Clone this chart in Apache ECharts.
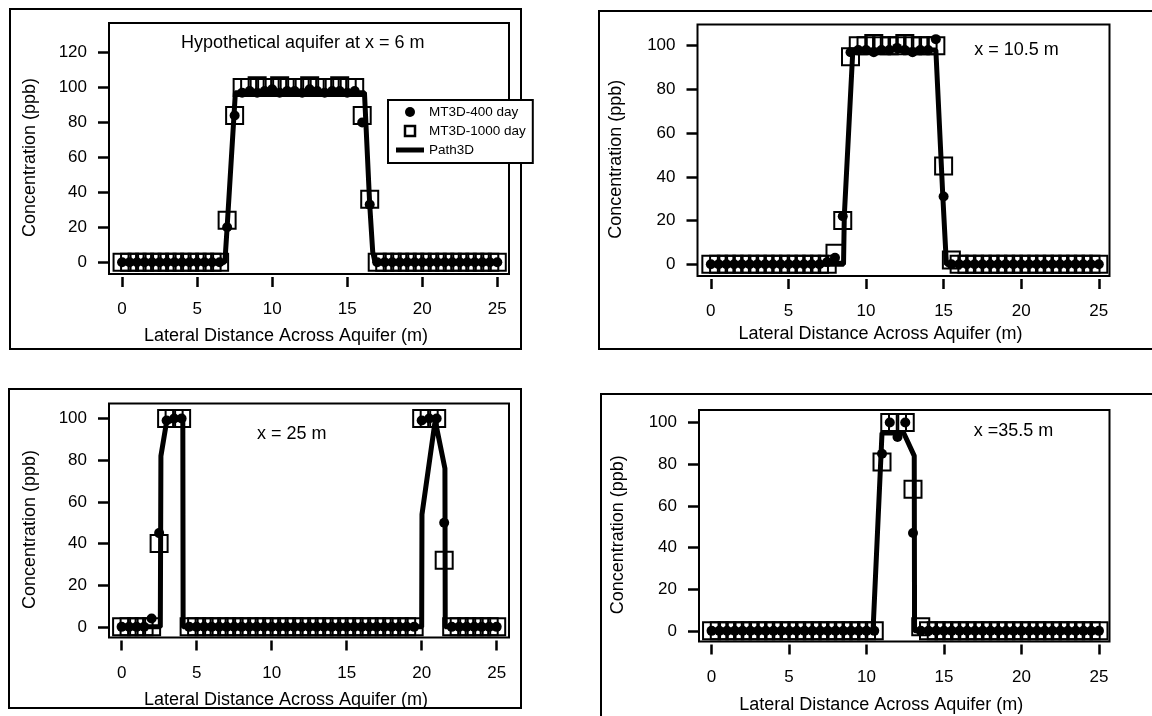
<!DOCTYPE html>
<html>
<head>
<meta charset="utf-8">
<title>Concentration profiles</title>
<script src="https://cdn.jsdelivr.net/npm/echarts@6/dist/echarts.min.js"></script>
<style>
  html, body { margin: 0; padding: 0; background: #fff; }
  #main { width: 1152px; height: 716px; }
</style>
</head>
<body>
<div id="main"></div>
<script>
// lateral positions of the MT3D cells (m)
var xs = [0, 0.5, 1, 1.5, 2, 2.5, 3, 3.5, 4, 4.5, 5, 5.5, 6, 6.5, 7, 7.5, 8, 8.5, 9, 9.5,
          10, 10.5, 11, 11.5, 12, 12.5, 13, 13.5, 14, 14.5, 15, 15.5, 16, 16.5, 17, 17.5, 18, 18.5, 19, 19.5,
          20, 20.5, 21, 21.5, 22, 22.5, 23, 23.5, 24, 24.5, 25];

var xTicks = [0, 5, 10, 15, 20, 25];
var yTicks6 = [0, 20, 40, 60, 80, 100, 120];
var yTicks = [0, 20, 40, 60, 80, 100];

var panelTitles = ['Hypothetical aquifer at x = 6 m', 'x = 10.5 m', 'x = 25 m', 'x =35.5 m'];

// x = 6 m
var mt400_6 = [0, 0, 0, 0, 0, 0, 0, 0, 0, 0, 0, 0, 0, 0, 20, 84,
               97, 98, 97, 98, 99, 97, 98, 98, 97, 99, 98, 97, 98, 98, 97, 98,
               80, 33, 0, 0, 0, 0, 0, 0, 0, 0, 0, 0, 0, 0, 0, 0, 0, 0, 0];
var mt1000_6 = [0, 0, 0, 0, 0, 0, 0, 0, 0, 0, 0, 0, 0, 0, 24, 84,
                100, 100, 101, 100, 100, 101, 100, 100, 100, 101, 100, 100, 100, 101, 100, 100,
                84, 36, 0, 0, 0, 0, 0, 0, 0, 0, 0, 0, 0, 0, 0, 0, 0, 0, 0];
var path_6 = [[0, 0], [6.85, 0], [7.0, 20], [7.55, 97], [16.15, 97], [16.5, 33], [16.7, 6], [16.85, 0], [25, 0]];

// x = 10.5 m
var mt400_10 = [0, 0, 0, 0, 0, 0, 0, 0, 0, 0, 0, 0, 0, 0, 0, 1, 3, 22, 97,
                98, 98, 97, 98, 98, 99, 98, 97, 98, 98, 103, 31, 0,
                0, 0, 0, 0, 0, 0, 0, 0, 0, 0, 0, 0, 0, 0, 0, 0, 0, 0, 0];
var mt1000_10 = [0, 0, 0, 0, 0, 0, 0, 0, 0, 0, 0, 0, 0, 0, 0, 0, 5, 20, 95,
                 100, 100, 101, 100, 100, 100, 101, 100, 100, 100, 100, 45, 2,
                 0, 0, 0, 0, 0, 0, 0, 0, 0, 0, 0, 0, 0, 0, 0, 0, 0, 0, 0];
var path_10 = [[0, 0], [8.55, 0], [8.6, 22], [9.15, 98], [14.5, 98], [14.95, 31], [15.18, 0], [25, 0]];

// x = 25 m
var mt400_25 = [0, 0, 0, 0, 4, 45, 99, 100, 100,
                0, 0, 0, 0, 0, 0, 0, 0, 0, 0, 0, 0, 0, 0, 0, 0, 0, 0, 0, 0, 0, 0, 0, 0, 0, 0, 0, 0, 0, 0, 0,
                99, 100, 100, 50, 0, 0, 0, 0, 0, 0, 0];
var mt1000_25 = [0, 0, 0, 0, 0, 40, 100, 100, 100,
                 0, 0, 0, 0, 0, 0, 0, 0, 0, 0, 0, 0, 0, 0, 0, 0, 0, 0, 0, 0, 0, 0, 0, 0, 0, 0, 0, 0, 0, 0, 0,
                 100, 100, 100, 32, 0, 0, 0, 0, 0, 0, 0];
var path_25 = [[0, 0], [2.58, 0], [2.62, 82], [3.0, 98.5], [4.08, 100], [4.1, 0], [20.0, 0], [20.02, 54],
               [20.9, 99], [21.55, 76], [21.57, 0], [25, 0]];

// x = 35.5 m
var mt400_35 = [0, 0, 0, 0, 0, 0, 0, 0, 0, 0, 0, 0, 0, 0, 0, 0, 0, 0, 0, 0, 0, 0,
                85, 100, 93, 100, 47, 0,
                0, 0, 0, 0, 0, 0, 0, 0, 0, 0, 0, 0, 0, 0, 0, 0, 0, 0, 0, 0, 0, 0, 0];
var mt1000_35 = [0, 0, 0, 0, 0, 0, 0, 0, 0, 0, 0, 0, 0, 0, 0, 0, 0, 0, 0, 0, 0, 0,
                 81, 100, 100, 100, 68, 2,
                 0, 0, 0, 0, 0, 0, 0, 0, 0, 0, 0, 0, 0, 0, 0, 0, 0, 0, 0, 0, 0, 0, 0];
var path_35 = [[0, 0], [10.42, 0], [11.0, 95], [12.4, 95], [13.08, 84], [13.1, 0], [25, 0]];

var font = 'Liberation Sans, Arial, sans-serif';

function pairs(vals) {
    var out = [];
    for (var i = 0; i < xs.length; i++) out.push([xs[i], vals[i]]);
    return out;
}

// grid boxes and axis extents (pixels / axis units)
var panels = [
    { box: [109, 23, 400, 251], xr: [-0.87, 25.78], yr: [-6.7, 136.9], yt: yTicks6,
      c: mt400_6, s: mt1000_6, p: path_6, xGap: 50, yGap: 70 },
    { box: [697.5, 24.5, 412, 251.5], xr: [-0.86, 25.69], yr: [-5.35, 109.7], yt: yTicks,
      c: mt400_10, s: mt1000_10, p: path_10, xGap: 46, yGap: 72 },
    { box: [109, 403.5, 400, 234], xr: [-0.84, 25.82], yr: [-5.1, 107.2], yt: yTicks,
      c: mt400_25, s: mt1000_25, p: path_25, xGap: 51, yGap: 70 },
    { box: [699, 410, 410.5, 231.5], xr: [-0.81, 25.68], yr: [-5.1, 106], yt: yTicks,
      c: mt400_35, s: mt1000_35, p: path_35, xGap: 52, yGap: 72 }
];
var titlePos = [[302.7, 43], [1016.5, 50], [291.7, 434], [1013.5, 431]];
var frames = [[10, 9, 511, 340], [599, 11, 600, 338], [9, 389, 512, 319], [601, 394, 600, 400]];

var option = {
    backgroundColor: '#fff',
    animation: false,
    textStyle: { fontFamily: font, color: '#000' },
    grid: [], xAxis: [], yAxis: [], series: [],
    legend: {
        left: 388, top: 100,
        orient: 'vertical',
        backgroundColor: '#fff',
        borderColor: '#000', borderWidth: 2, borderRadius: 0,
        padding: [5, 7, 6, 8],
        itemGap: 5, itemWidth: 28, itemHeight: 10,
        symbolKeepAspect: true,
        textStyle: { fontFamily: font, fontSize: 13.5, color: '#000' },
        z: 20,
        data: [
            { name: 'MT3D-400 day', icon: 'circle', itemStyle: { color: '#000' } },
            { name: 'MT3D-1000 day', icon: 'path://M0,0H10V10H0Z',
              itemStyle: { color: '#fff', borderColor: '#000', borderWidth: 2.5 } },
            { name: 'Path3D', icon: 'path://M0,0H28V5H0Z', itemStyle: { color: '#000' } }
        ]
    },
    graphic: []
};

panels.forEach(function (pn, i) {
    option.grid.push({
        left: pn.box[0], top: pn.box[1], width: pn.box[2], height: pn.box[3],
        show: true, borderColor: '#000', borderWidth: 2, backgroundColor: 'transparent'
    });
    // axes sit on the box edges (not on zero), ticks hang outside
    option.xAxis.push({
        gridIndex: i, type: 'value', min: pn.xr[0], max: pn.xr[1],
        position: 'bottom', offset: 3,
        name: 'Lateral Distance Across Aquifer (m)', nameLocation: 'middle', nameGap: pn.xGap,
        nameTextStyle: { fontFamily: font, fontSize: 18, color: '#000', padding: [0, 46, 0, 0] },
        axisLine: { show: false, onZero: false },
        axisTick: { show: true, inside: false, length: 10, customValues: xTicks, lineStyle: { color: '#000', width: 2.5 } },
        axisLabel: { customValues: xTicks, margin: 24, fontFamily: font, fontSize: 17, color: '#000' },
        splitLine: { show: false }
    });
    option.yAxis.push({
        gridIndex: i, type: 'value', min: pn.yr[0], max: pn.yr[1],
        position: 'left',
        name: 'Concentration (ppb)', nameLocation: 'middle', nameGap: pn.yGap,
        nameTextStyle: { fontFamily: font, fontSize: 18, color: '#000', padding: [0, 18, 0, 0] },
        axisLine: { show: false, onZero: false },
        axisTick: { show: true, inside: false, length: 11, customValues: pn.yt, lineStyle: { color: '#000', width: 2.5 } },
        axisLabel: { customValues: pn.yt, margin: 22, fontFamily: font, fontSize: 17, color: '#000' },
        splitLine: { show: false }
    });
    option.series.push({
        name: 'MT3D-400 day', type: 'scatter', xAxisIndex: i, yAxisIndex: i,
        symbol: 'circle', symbolSize: 10, z: 3,
        itemStyle: { color: '#000', opacity: 1 },
        data: pairs(pn.c)
    });
    option.series.push({
        name: 'MT3D-1000 day', type: 'scatter', xAxisIndex: i, yAxisIndex: i,
        symbol: 'rect', symbolSize: 17, z: 2,
        itemStyle: { color: 'rgba(0,0,0,0)', borderColor: '#000', borderWidth: 2, opacity: 1 },
        data: pairs(pn.s)
    });
    option.series.push({
        name: 'Path3D', type: 'line', xAxisIndex: i, yAxisIndex: i,
        symbol: 'none', z: 4,
        lineStyle: { color: '#000', width: 5 },
        data: pn.p
    });
    option.graphic.push({
        type: 'rect', z: -1, silent: true,
        shape: { x: frames[i][0], y: frames[i][1], width: frames[i][2], height: frames[i][3] },
        style: { fill: 'none', stroke: '#000', lineWidth: 2 }
    });
    option.graphic.push({
        type: 'text', z: 10, silent: true,
        x: titlePos[i][0], y: titlePos[i][1],
        style: { text: panelTitles[i], fontFamily: font, fontSize: 18, fill: '#000',
                 align: 'center', verticalAlign: 'middle' }
    });
});

var myChart = echarts.init(document.getElementById('main'), null, { renderer: 'canvas' });
myChart.setOption(option, true);
</script>
</body>
</html>
